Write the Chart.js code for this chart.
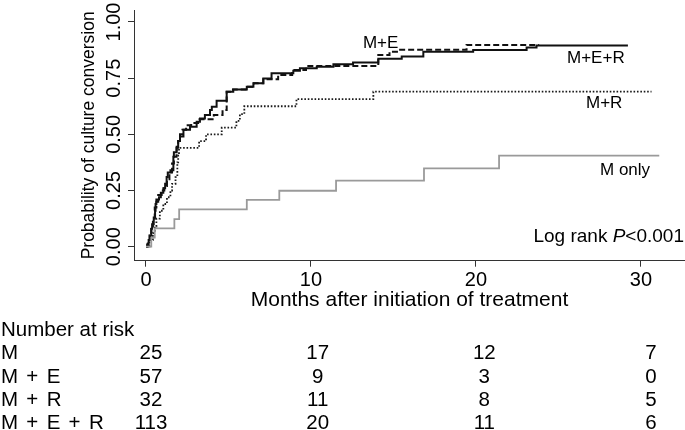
<!DOCTYPE html>
<html><head><meta charset="utf-8">
<script src="https://cdn.jsdelivr.net/npm/chart.js@4/dist/chart.umd.min.js"></script>
<style>html,body{margin:0;padding:0;background:#fff;}#wrap{width:685px;height:430px;}</style>
</head><body><div id="wrap"><canvas id="c" width="685" height="430"></canvas></div>
<script>
const FONT = '"Liberation Sans", Arial, Helvetica, sans-serif';

// axis ticks
const xTicks = [0, 10, 20, 30];
const yTicks = [0, 0.25, 0.5, 0.75, 1];

// M + E + R (solid)
const merTimes = [0, 0.07, 0.16, 0.26, 0.32, 0.37, 0.47, 0.55, 0.58, 0.63, 0.79, 0.90, 1.05, 1.16, 1.25, 1.32, 1.48, 1.66, 1.69, 1.86, 1.95, 2.06, 2.27, 2.67, 3.07, 3.27, 3.57, 3.88, 3.99, 4.28, 4.89, 5.29, 6.11, 6.51, 7.11, 7.61, 8.93, 9.33, 10.35, 11.36, 12.55, 14.08, 15.50, 16.81, 19.83, 23.07, 23.67, 29.21];
const merProbs = [0, 0.01, 0.03, 0.05, 0.08, 0.10, 0.13, 0.16, 0.19, 0.21, 0.22, 0.24, 0.26, 0.28, 0.31, 0.33, 0.34, 0.40, 0.42, 0.445, 0.47, 0.49, 0.52, 0.534, 0.556, 0.571, 0.586, 0.608, 0.623, 0.65, 0.69, 0.70, 0.712, 0.727, 0.749, 0.772, 0.783, 0.794, 0.801, 0.812, 0.82, 0.836, 0.846, 0.868, 0.875, 0.887, 0.895, 0.895];

// M + E (dashed)
const meTimes = [0, 0.11, 0.21, 0.32, 0.42, 0.53, 0.63, 0.74, 0.95, 1.11, 1.27, 1.42, 1.58, 1.69, 1.85, 1.95, 2.06, 2.21, 2.43, 2.74, 3.16, 4.11, 4.64, 4.89, 5.27, 6.12, 6.54, 7.11, 8.01, 8.86, 9.70, 14.08, 14.76, 15.29, 19.43, 23.83];
const meProbs = [0, 0.02, 0.05, 0.09, 0.12, 0.175, 0.20, 0.23, 0.25, 0.27, 0.30, 0.33, 0.37, 0.40, 0.44, 0.47, 0.50, 0.52, 0.54, 0.55, 0.567, 0.586, 0.608, 0.69, 0.70, 0.712, 0.727, 0.745, 0.764, 0.786, 0.804, 0.853, 0.868, 0.876, 0.898, 0.898];

// M + R (dotted)
const mrTimes = [0, 0.21, 0.42, 0.53, 0.63, 0.84, 1.05, 1.27, 1.48, 1.58, 1.79, 1.90, 1.95, 2.00, 3.22, 3.64, 4.59, 5.48, 5.69, 5.96, 9.12, 13.78, 30.64];
const mrProbs = [0, 0.03, 0.06, 0.09, 0.125, 0.16, 0.19, 0.22, 0.25, 0.28, 0.31, 0.375, 0.41, 0.44, 0.47, 0.50, 0.53, 0.56, 0.59, 0.625, 0.657, 0.69, 0.69];

// M only (grey)
const mTimes = [0, 0.32, 0.53, 1.72, 2.01, 6.11, 8.08, 11.52, 16.85, 21.40, 31.11];
const mProbs = [0, 0.04, 0.082, 0.123, 0.166, 0.208, 0.249, 0.294, 0.349, 0.405, 0.405];

// number at risk table
const riskTimes = [0, 10, 20, 30];
const riskGroups = ['M', 'M + E', 'M + R', 'M + E + R'];
const riskM = [25, 17, 12, 7];
const riskME = [57, 9, 3, 0];
const riskMR = [32, 11, 8, 5];
const riskMER = [113, 20, 11, 6];

function pts(t, p) { return t.map((v, i) => ({ x: v, y: p[i] })); }

function spacedText(ctx, text, x, y, extra) {
  const words = text.split(' ');
  const sp = ctx.measureText(' ').width + extra;
  words.forEach((w, i) => {
    ctx.fillText(w, x, y);
    x += ctx.measureText(w).width + (i < words.length - 1 ? sp : 0);
  });
}

const labelsPlugin = {
  id: 'labels',
  afterDraw(chart) {
    const ctx = chart.ctx, xs = chart.scales.x, ys = chart.scales.y;
    ctx.save();
    ctx.fillStyle = '#000';
    ctx.textBaseline = 'middle';
    ctx.font = '17px ' + FONT;
    ctx.textAlign = 'left';
    ctx.fillText('M+E', xs.getPixelForValue(13.15), ys.getPixelForValue(0.904));
    ctx.fillText('M+E+R', xs.getPixelForValue(25.52), ys.getPixelForValue(0.84));
    ctx.fillText('M+R', xs.getPixelForValue(26.67), ys.getPixelForValue(0.637));
    ctx.fillText('M only', xs.getPixelForValue(27.52), ys.getPixelForValue(0.341));
    // log rank
    const f1 = '19px ' + FONT, f2 = 'italic 19px ' + FONT;
    const parts = [['Log rank ', f1], ['P', f2], ['<0.001', f1]];
    let w = 0;
    parts.forEach(p => { ctx.font = p[1]; w += ctx.measureText(p[0]).width; });
    let x = 684 - w;
    const y = ys.getPixelForValue(0.043);
    parts.forEach(p => { ctx.font = p[1]; ctx.fillText(p[0], x, y); x += ctx.measureText(p[0]).width; });
    // number at risk table
    ctx.font = '20.5px ' + FONT;
    ctx.textBaseline = 'alphabetic';
    ctx.textAlign = 'left';
    ctx.fillText('Number at risk', 1, 336);
    const rows = [riskM, riskME, riskMR, riskMER];
    const base = [359.3, 382.5, 405.8, 429];
    rows.forEach((r, i) => {
      ctx.textAlign = 'left';
      spacedText(ctx, riskGroups[i], 1, base[i], 2.6);
      ctx.textAlign = 'center';
      r.forEach((v, j) => ctx.fillText(String(v), xs.getPixelForValue(riskTimes[j]) + 5 + riskTimes[j] / 6, base[i]));
    });
    ctx.restore();
  }
};

new Chart(document.getElementById('c'), {
  type: 'line',
  data: {
    datasets: [
      { label: 'M only', data: pts(mTimes, mProbs), borderColor: '#9a9a9a', borderWidth: 1.8 },
      { label: 'M+R', data: pts(mrTimes, mrProbs), borderColor: '#1a1a1a', borderWidth: 1.8, borderDash: [1.6, 1.8] },
      { label: 'M+E', data: pts(meTimes, meProbs), borderColor: '#111', borderWidth: 2, borderDash: [6, 3] },
      { label: 'M+E+R', data: pts(merTimes, merProbs), borderColor: '#111', borderWidth: 2 }
    ].map(d => Object.assign({ stepped: true, pointRadius: 0, fill: false, borderCapStyle: 'butt' }, d))
  },
  options: {
    responsive: false,
    devicePixelRatio: 1,
    animation: false,
    events: [],
    layout: { padding: { top: 10, left: 0, right: 0, bottom: 115 } },
    plugins: { legend: { display: false }, tooltip: { enabled: false } },
    scales: {
      x: {
        type: 'linear', min: -0.727, max: 32.67,
        afterBuildTicks: s => { s.ticks = xTicks.map(v => ({ value: v })); },
        afterFit: s => { s.height = 54.3; },
        grid: { drawOnChartArea: false, drawTicks: true, tickLength: 6, color: '#333', lineWidth: 1 },
        border: { display: true, color: '#333', width: 1 },
        ticks: { font: { family: FONT, size: 20 }, color: '#000', padding: 2, maxRotation: 0, autoSkip: false },
        title: { display: true, text: 'Months after initiation of treatment', color: '#000', font: { family: FONT, size: 21 }, padding: { top: 0, bottom: 2.4 } }
      },
      y: {
        type: 'linear', min: -0.0623, max: 1.0534,
        afterBuildTicks: s => { s.ticks = yTicks.map(v => ({ value: v })); },
        afterFit: s => { s.width = 134; },
        grid: { drawOnChartArea: false, drawTicks: true, tickLength: 6, color: '#333', lineWidth: 1 },
        border: { display: true, color: '#333', width: 1 },
        ticks: { font: { family: FONT, size: 20 }, color: '#000', padding: -5.5, minRotation: 90, maxRotation: 90, crossAlign: 'center', callback: v => v.toFixed(2) },
        title: { display: true, text: 'Probability of culture conversion', color: '#000', font: { family: FONT, size: 17.5 }, padding: { top: 78.5, bottom: 0 } }
      }
    }
  },
  plugins: [labelsPlugin]
});
</script>
</body></html>
